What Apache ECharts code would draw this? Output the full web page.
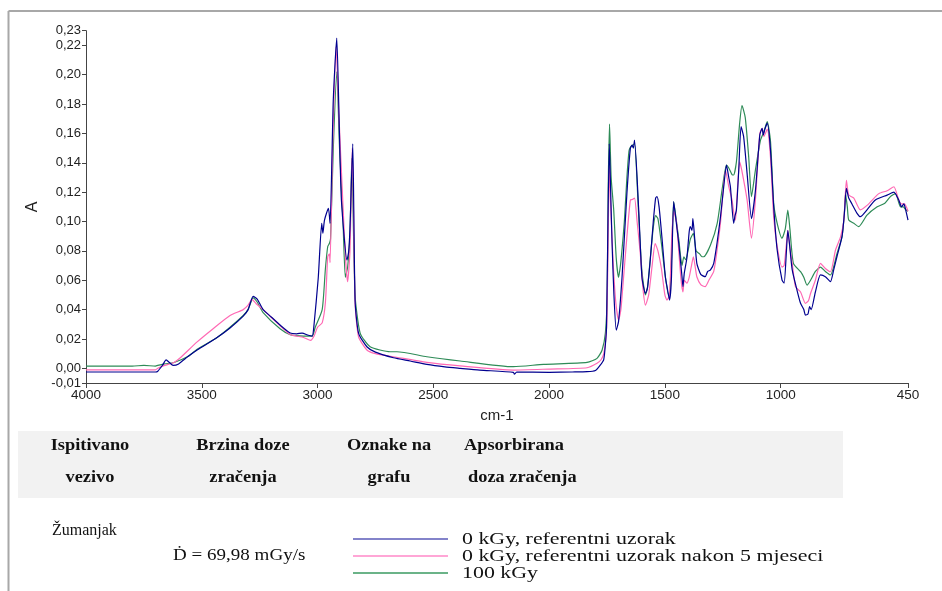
<!DOCTYPE html>
<html>
<head>
<meta charset="utf-8">
<script src="https://cdn.jsdelivr.net/npm/echarts@6/dist/echarts.min.js"></script>
<style>html,body{margin:0;padding:0;background:#fff}#c{width:942px;height:591px}</style>
</head>
<body>
<div id="c"></div>
<script>
// ---- data ----
const xTicks = [4000, 3500, 3000, 2500, 2000, 1500, 1000, 450];
const yTicks = [-0.01, 0, 0.02, 0.04, 0.06, 0.08, 0.10, 0.12, 0.14, 0.16, 0.18, 0.20, 0.22, 0.23];
const xName = 'cm-1';
const yName = 'A';

const seriesNames = ['0 kGy, referentni uzorak', '0 kGy, referentni uzorak nakon 5 mjeseci', '100 kGy'];

const refSpectrum = [
[4000,-0.0025],[3800,-0.0025],[3700,-0.0025],[3690,-0.002],[3670,0.002],[3654,0.0057],[3640,0.004],[3624,0.002],
[3600,0.003],[3560,0.008],[3520,0.0125],[3434,0.021],[3378,0.0275],[3321,0.0356],[3300,0.040],[3278,0.049],
[3260,0.047],[3235,0.040],[3200,0.035],[3162,0.0295],[3118,0.024],[3090,0.0235],[3067,0.024],[3040,0.0225],
[3023,0.022],[3015,0.030],[2997,0.0615],[2982,0.0988],[2977,0.092],[2970,0.101],[2953,0.109],[2946,0.0988],
[2932,0.183],[2917,0.225],[2907,0.170],[2897,0.1147],[2873,0.0738],[2866,0.079],[2860,0.095],[2848,0.153],
[2838,0.0465],[2823,0.024],[2787,0.0147],[2750,0.011],[2672,0.0072],[2600,0.005],[2528,0.0027],[2450,0.001],
[2384,0.0],[2300,-0.0012],[2154,-0.0027],[2150,-0.004],[2140,-0.0025],[2000,-0.0027],[1900,-0.0025],[1836,-0.0023],
[1800,-0.0015],[1780,0.002],[1764,0.006],[1755,0.02],[1752,0.028],[1747,0.085],[1740,0.153],[1734,0.12],
[1728,0.085],[1720,0.05],[1710,0.026],[1700,0.032],[1685,0.062],[1664,0.119],[1649,0.150],[1642,0.152],
[1636,0.150],[1631,0.1555],[1613,0.108],[1599,0.062],[1584,0.051],[1575,0.055],[1563,0.074],[1550,0.10],
[1540,0.116],[1534,0.117],[1525,0.110],[1513,0.0897],[1498,0.0624],[1490,0.055],[1480,0.0465],[1472,0.06],
[1462,0.1135],[1455,0.105],[1440,0.085],[1426,0.0624],[1422,0.0556],[1416,0.065],[1405,0.075],[1395,0.093],
[1390,0.0965],[1383,0.094],[1379,0.102],[1372,0.09],[1362,0.0715],[1345,0.064],[1326,0.0624],[1315,0.066],
[1303,0.067],[1289,0.0715],[1275,0.085],[1260,0.103],[1245,0.125],[1234,0.1385],[1224,0.130],[1217,0.1237],
[1203,0.0988],[1197,0.104],[1191,0.1078],[1181,0.135],[1171,0.1646],[1160,0.158],[1145,0.133],[1126,0.102],
[1109,0.121],[1090,0.159],[1080,0.1635],[1075,0.159],[1068,0.163],[1058,0.167],[1044,0.149],[1030,0.110],
[1015,0.0806],[994,0.060],[985,0.058],[975,0.08],[969,0.094],[962,0.085],[950,0.067],[929,0.053],
[914,0.0443],[900,0.040],[893,0.0363],[882,0.037],[875,0.042],[868,0.040],[850,0.052],[828,0.0636],
[807,0.0624],[785,0.059],[771,0.067],[757,0.076],[735,0.0897],[725,0.105],[716,0.1226],[706,0.116],
[692,0.112],[670,0.1056],[656,0.1033],[627,0.108],[591,0.1147],[540,0.118],[511,0.120],[490,0.1147],
[478,0.110],[468,0.112],[460,0.108],[450,0.101]
];

const refAfter5Months = [
[4000,-0.001],[3700,-0.001],[3690,0.0],[3660,0.002],[3620,0.004],[3594,0.007],[3520,0.018],[3451,0.027],
[3378,0.036],[3321,0.040],[3300,0.043],[3283,0.047],[3265,0.044],[3235,0.040],[3162,0.029],[3118,0.023],
[3060,0.021],[3030,0.019],[3015,0.022],[3000,0.028],[2980,0.031],[2966,0.045],[2956,0.076],[2949,0.078],
[2946,0.072],[2935,0.150],[2920,0.219],[2907,0.170],[2890,0.110],[2878,0.072],[2870,0.059],[2860,0.080],
[2850,0.150],[2838,0.045],[2823,0.0215],[2787,0.0125],[2750,0.010],[2672,0.0079],[2528,0.004],[2384,0.0016],
[2154,-0.0012],[2000,-0.0005],[1836,0.0004],[1793,0.0034],[1775,0.006],[1764,0.010],[1755,0.020],[1750,0.035],
[1744,0.100],[1740,0.137],[1734,0.11],[1724,0.074],[1712,0.045],[1700,0.033],[1690,0.040],[1685,0.049],
[1664,0.0897],[1649,0.1146],[1640,0.115],[1631,0.116],[1620,0.100],[1606,0.078],[1595,0.055],[1584,0.043],
[1570,0.05],[1555,0.07],[1542,0.085],[1530,0.080],[1515,0.068],[1500,0.050],[1491,0.0465],[1480,0.05],
[1470,0.09],[1462,0.107],[1450,0.100],[1440,0.080],[1430,0.060],[1422,0.052],[1416,0.060],[1405,0.058],
[1395,0.062],[1385,0.070],[1377,0.076],[1368,0.068],[1362,0.0624],[1345,0.057],[1326,0.0556],[1310,0.060],
[1289,0.066],[1275,0.080],[1260,0.0988],[1238,0.135],[1224,0.1237],[1210,0.1147],[1200,0.103],[1195,0.101],
[1188,0.118],[1177,0.1407],[1168,0.135],[1145,0.1147],[1126,0.0886],[1109,0.1147],[1090,0.160],[1080,0.1635],
[1072,0.158],[1058,0.163],[1044,0.144],[1030,0.103],[1015,0.083],[994,0.069],[985,0.07],[975,0.085],
[969,0.094],[960,0.082],[950,0.0715],[936,0.0556],[914,0.052],[893,0.0443],[880,0.046],[871,0.051],
[850,0.060],[828,0.0715],[807,0.068],[785,0.0658],[763,0.0806],[741,0.0897],[727,0.101],[716,0.128],
[706,0.118],[684,0.116],[656,0.108],[627,0.111],[576,0.119],[540,0.121],[511,0.1237],[490,0.1147],
[478,0.112],[465,0.112],[450,0.107]
];

const irradiated100kGy = [
[4000,0.0015],[3800,0.0015],[3750,0.002],[3700,0.0015],[3690,0.002],[3660,0.003],[3620,0.004],[3560,0.008],
[3520,0.013],[3434,0.021],[3378,0.028],[3321,0.036],[3300,0.040],[3278,0.048],[3260,0.045],[3235,0.038],
[3162,0.027],[3118,0.023],[3060,0.022],[3023,0.022],[3010,0.028],[2980,0.040],[2966,0.068],[2956,0.083],
[2949,0.085],[2944,0.088],[2932,0.150],[2917,0.202],[2905,0.150],[2890,0.100],[2880,0.062],[2870,0.069],
[2860,0.090],[2852,0.143],[2838,0.050],[2816,0.024],[2773,0.0147],[2686,0.0113],[2657,0.0113],[2528,0.0079],
[2384,0.005],[2154,0.0011],[2024,0.0027],[1836,0.004],[1793,0.0068],[1771,0.0125],[1757,0.024],[1749,0.050],
[1745,0.120],[1739,0.1664],[1732,0.130],[1721,0.108],[1710,0.075],[1700,0.062],[1692,0.070],[1685,0.081],
[1675,0.10],[1664,0.130],[1655,0.148],[1649,0.1505],[1640,0.152],[1631,0.153],[1615,0.11],[1600,0.068],
[1584,0.05],[1575,0.055],[1563,0.075],[1550,0.096],[1540,0.104],[1530,0.102],[1515,0.085],[1500,0.065],
[1484,0.050],[1478,0.052],[1470,0.08],[1462,0.1135],[1450,0.100],[1440,0.088],[1426,0.070],[1418,0.076],
[1410,0.074],[1400,0.08],[1390,0.088],[1377,0.092],[1365,0.080],[1350,0.078],[1340,0.076],[1332,0.076],
[1303,0.084],[1274,0.0988],[1253,0.1215],[1234,0.1385],[1224,0.1365],[1210,0.132],[1203,0.1317],[1191,0.1407],
[1177,0.167],[1167,0.179],[1153,0.171],[1138,0.144],[1126,0.117],[1109,0.135],[1087,0.1555],[1073,0.161],
[1058,0.168],[1044,0.155],[1030,0.1124],[1015,0.0988],[994,0.0886],[980,0.095],[969,0.1078],[960,0.095],
[945,0.0715],[914,0.0658],[900,0.062],[886,0.0567],[871,0.060],[850,0.066],[828,0.069],[807,0.066],
[785,0.0636],[757,0.078],[735,0.0897],[725,0.105],[720,0.119],[712,0.110],[706,0.101],[684,0.0988],
[663,0.0965],[627,0.1044],[583,0.110],[550,0.1125],[526,0.117],[504,0.119],[482,0.110],[470,0.110],
[460,0.108],[450,0.107]
];

const tableHeaderLine1 = ['Ispitivano', 'Brzina doze', 'Oznake na', 'Apsorbirana'];
const tableHeaderLine2 = ['vezivo', 'zračenja', 'grafu', 'doza zračenja'];
const sampleName = 'Žumanjak';
const doseRate = 'Ḋ = 69,98 mGy/s';

// ---- styling / layout ----
const colors = ['#00008f', '#ff69b4', '#2e8b57'];
const legendColors = ['#5a5ab8', '#ff88c8', '#3a9a60'];
const serif = '"Liberation Serif", "DejaVu Serif", serif';
const sans = '"Liberation Sans", Arial, sans-serif';
const fmtY = v => (Math.round(v * 100) / 100).toFixed(2).replace('.', ',');
const fmtX = v => String(Math.round(v));

const chart = echarts.init(document.getElementById('c'), null, {renderer: 'canvas'});

const txt = (text, x, y, align, font, sx) => ({
  type: 'text', x, y, scaleX: sx || 1, scaleY: 1,
  style: {text, x: 0, y: 0, align, verticalAlign: 'middle', font, fill: '#111'}
});

const graphics = [];
// frame
graphics.push({type: 'line', shape: {x1: 8.5, y1: 11, x2: 942, y2: 11}, style: {stroke: '#a8a8a8', lineWidth: 2}, silent: true});
graphics.push({type: 'line', shape: {x1: 8.5, y1: 11, x2: 8.5, y2: 591}, style: {stroke: '#a8a8a8', lineWidth: 2}, silent: true});
// header band
graphics.push({type: 'rect', shape: {x: 18, y: 431, width: 825, height: 67}, style: {fill: '#f2f2f2'}, silent: true, z: -1});
const headX = [90, 243, 389, 464];
const headAlign = ['center', 'center', 'center', 'left'];
const head2X = [90, 243, 389, 468];
tableHeaderLine1.forEach((t, i) => graphics.push(txt(t, headX[i], 446, headAlign[i], 'bold 17px ' + serif, 1.08)));
tableHeaderLine2.forEach((t, i) => graphics.push(txt(t, head2X[i], 478, headAlign[i], 'bold 17px ' + serif, 1.08)));
graphics.push(txt(sampleName, 52, 531, 'left', '16px ' + serif, 1.0));
graphics.push(txt(doseRate, 173, 556, 'left', '17px ' + serif, 1.12));
const rowY = [539, 556, 573];
seriesNames.forEach((t, i) => {
  graphics.push({type: 'line', shape: {x1: 353, y1: rowY[i], x2: 448, y2: rowY[i]}, style: {stroke: legendColors[i], lineWidth: 1.3}});
  graphics.push(txt(t, 462, rowY[i], 'left', '17.5px ' + serif, 1.25));
});

const mkSeries = (name, data, i, z) => ({
  name, type: 'line', data, showSymbol: false, smooth: 0.2, z,
  lineStyle: {color: colors[i], width: 1.2}, itemStyle: {color: colors[i]}, animation: false
});

chart.setOption({
  animation: false,
  backgroundColor: '#fff',
  grid: {left: 86, right: 34, top: 30.7, bottom: 208, containLabel: false},
  xAxis: {
    type: 'value', inverse: true, min: 450, max: 4000,
    name: xName, nameLocation: 'middle', nameGap: 25,
    nameTextStyle: {fontSize: 15, color: '#222', fontFamily: sans},
    axisLine: {show: true, onZero: false, lineStyle: {color: '#444', width: 1}},
    axisTick: {show: true, length: 5, customValues: xTicks, lineStyle: {color: '#444'}},
    axisLabel: {customValues: xTicks, margin: 5, fontSize: 13.5, color: '#222', fontFamily: sans, formatter: fmtX},
    splitLine: {show: false}
  },
  yAxis: {
    type: 'value', min: -0.01, max: 0.23,
    name: yName, nameLocation: 'middle', nameGap: 45, nameRotate: 90,
    nameTextStyle: {fontSize: 16, color: '#222', fontFamily: sans},
    axisLine: {show: true, onZero: false, lineStyle: {color: '#444', width: 1}},
    axisTick: {show: true, length: 4, customValues: yTicks, lineStyle: {color: '#444'}},
    axisLabel: {customValues: yTicks, margin: 5, fontSize: 13, color: '#222', fontFamily: sans, formatter: fmtY},
    splitLine: {show: false}
  },
  series: [
    mkSeries(seriesNames[2], irradiated100kGy, 2, 2),
    mkSeries(seriesNames[1], refAfter5Months, 1, 3),
    mkSeries(seriesNames[0], refSpectrum, 0, 4)
  ],
  graphic: {elements: graphics}
});
</script>
</body>
</html>
